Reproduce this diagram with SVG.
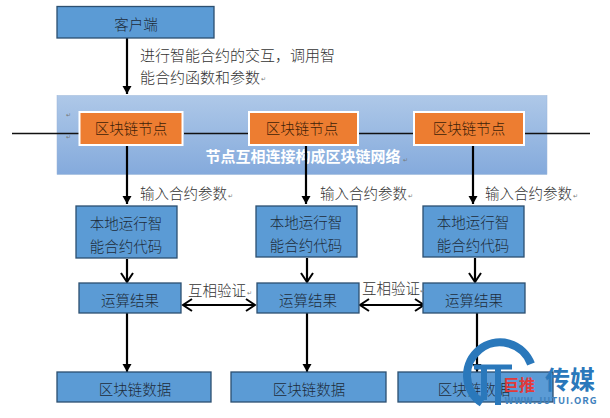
<svg xmlns="http://www.w3.org/2000/svg" width="610" height="418" viewBox="0 0 610 418">
<defs>
<linearGradient id="g" x1="0" y1="0" x2="0" y2="1"><stop offset="0" stop-color="#aec8e8"/><stop offset="1" stop-color="#84aadc"/></linearGradient>
<marker id="tri" markerUnits="userSpaceOnUse" markerWidth="9" markerHeight="10" refX="8" refY="4.500" orient="auto"><path d="M0 0L8 4.500L0 9z" fill="#000"/></marker>
<marker id="open" markerUnits="userSpaceOnUse" markerWidth="12" markerHeight="14" refX="10" refY="7" orient="auto-start-reverse"><path d="M1 1L10 7L1 13" fill="none" stroke="#000" stroke-width="2"/></marker>
</defs>
<style>
text{font-family:"Noto Sans CJK SC","Liberation Sans",sans-serif;font-size:14.500px;font-weight:300;fill:#1d2c3a;text-anchor:middle}
.b{fill:#5b9bd5;stroke:#2c4f70;stroke-width:1.3}
.o{fill:#ed7d31;stroke:#fff;stroke-width:2}
.n{fill:#3f1f08}
.l{fill:#333;text-anchor:start}
.m{font-size:6px;fill:#777;text-anchor:start}
.c{stroke:#000;stroke-width:2.2;fill:none}
.t{stroke:#111;stroke-width:1.700;fill:none}
.a{marker-end:url(#tri)}
.d{marker-end:url(#open)}
.dd{marker-start:url(#open);marker-end:url(#open)}
.w{fill:#2a78bb;font-weight:700}
</style>
<g id="network"><rect x="57" y="95.500" width="490" height="79" fill="url(#g)" stroke="#9ab5d8" stroke-width="0.500"/><text x="303" y="162" style="fill:#fff;font-weight:700;font-size:15px">节点互相连接构成区块链网络</text></g>
<g id="connectors">
<path class="c a" d="M127 38V94"/>
<path class="t" d="M12 133.500H79M184 133.500H249M358 133.500H414M525 133.500H590"/>
<path class="c a" d="M127 146V204"/>
<path class="c a" d="M306 146V204"/>
<path class="c a" d="M473 146V204"/>
<path class="c d" d="M127 259V282"/>
<path class="c d" d="M307 258V282"/>
<path class="c d" d="M475 258V282"/>
<path class="c dd" d="M183 305H255"/>
<path class="c dd" d="M360 305H424"/>
<path class="c a" d="M127 313V372"/>
<path class="c a" d="M307 313V372"/>
<path class="c a" d="M477 313V372"/>
</g>
<g id="client"><rect x="57" y="6.500" width="157" height="31.500" class="b"/><text x="136" y="30">客户端</text></g>
<text class="l" x="140" y="61" style="font-size:15px">进行智能合约的交互，调用智</text>
<text class="l" x="140" y="83" style="font-size:15px">能合约函数和参数</text>
<g id="node1"><rect x="79.500" y="112" width="103" height="33" class="o"/><text x="131" y="134" class="n">区块链节点</text></g>
<g id="node2"><rect x="249" y="112" width="109" height="33" class="o"/><text x="302" y="134" class="n">区块链节点</text></g>
<g id="node3"><rect x="414" y="112" width="110" height="33" class="o"/><text x="469" y="134" class="n">区块链节点</text></g>
<text class="l" x="140" y="199">输入合约参数</text>
<text class="l" x="320" y="199">输入合约参数</text>
<text class="l" x="485" y="199">输入合约参数</text>
<g id="run1"><rect x="76" y="206" width="101" height="52" class="b"/><text x="126" y="229">本地运行智</text><text x="126" y="252">能合约代码</text></g>
<g id="run2"><rect x="256" y="206" width="101" height="51" class="b"/><text x="306" y="228">本地运行智</text><text x="306" y="251">能合约代码</text></g>
<g id="run3"><rect x="423" y="206" width="101" height="51" class="b"/><text x="473" y="228">本地运行智</text><text x="473" y="251">能合约代码</text></g>
<g id="res1"><rect x="79" y="283" width="102" height="30" class="b"/><text x="130" y="306">运算结果</text></g>
<g id="res2"><rect x="257" y="283" width="102" height="30" class="b"/><text x="308" y="306">运算结果</text></g>
<g id="res3"><rect x="423" y="283" width="102" height="30" class="b"/><text x="474" y="306">运算结果</text></g>
<text x="217" y="296" style="fill:#333">互相验证</text>
<text x="391" y="294" style="fill:#333">互相验证</text>
<g id="data1"><rect x="57" y="372" width="154" height="30" class="b"/><text x="135" y="395">区块链数据</text></g>
<g id="data2"><rect x="231" y="372" width="155" height="30" class="b"/><text x="309" y="395">区块链数据</text></g>
<g id="data3"><rect x="398" y="372" width="155" height="30" class="b"/><text x="474" y="395">区块链数据</text></g>
<g id="returns">
<text class="m" x="66" y="117">↵</text><text class="m" x="66" y="139">↵</text>
<text class="m" x="261" y="81">↵</text><text class="m" x="228" y="198">↵</text><text class="m" x="408" y="198">↵</text><text class="m" x="573" y="198">↵</text>
<text class="m" x="247" y="295">↵</text><text class="m" x="420" y="293">↵</text><text class="m" x="403" y="162">↵</text>
</g>
<g id="logo">
<path d="M482 403A33 33 0 1 1 531 364" fill="none" stroke="#2a78bb" stroke-width="8"/>
<path d="M474 367H512" fill="none" stroke="#2a78bb" stroke-width="5"/>
<path d="M498 367V405" fill="none" stroke="#2a78bb" stroke-width="6"/>
<path d="M484 367V400" fill="none" stroke="#2a78bb" stroke-width="6"/>
<text x="519" y="391" style="fill:#e03a3a;font-weight:700;font-size:16px">巨推</text>
<text x="570" y="389" class="w" style="font-size:25px">传媒</text>
<text x="551" y="404" class="w" style="font-size:9.500px;letter-spacing:0.900px;fill:#3f82bd">WWW.JUTUI.ORG</text>
</g>
</svg>
